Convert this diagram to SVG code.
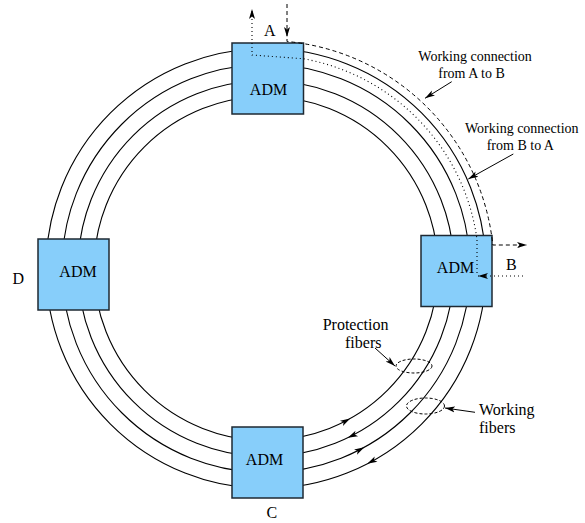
<svg xmlns="http://www.w3.org/2000/svg" xmlns:xlink="http://www.w3.org/1999/xlink" width="585" height="523" viewBox="0 0 585 523">
<style>
.fiber{fill:none;stroke:#000;stroke-width:1.1}
.box{fill:#87cefa;stroke:#1e2832;stroke-width:1.5}
.t{font-family:"Liberation Serif","Times New Roman",serif;fill:#000}
.t16{font-size:16px}
.t14{font-size:14px}
.dash{fill:none;stroke:#000;stroke-width:1;stroke-dasharray:4,3}
.dot{fill:none;stroke:#000;stroke-width:1.1;stroke-dasharray:1,3}
.ell{fill:none;stroke:#000;stroke-width:1;stroke-dasharray:3,2}
.ln{fill:none;stroke:#000;stroke-width:1}
</style>
<defs>
<marker id="ah" markerUnits="userSpaceOnUse" markerWidth="12" markerHeight="8" refX="10" refY="4" orient="auto">
<path d="M0,1 L10,4 L0,7 L2.5,4 z" fill="#000" stroke="none"/>
</marker>
<path id="fa" d="M0,0 L-10,-3 L-7.5,0 L-10,3 z" fill="#000"/>
</defs>

<g id="fibers">
<circle class="fiber" cx="266" cy="268.5" r="172"/>
<circle class="fiber" cx="266" cy="268.5" r="188"/>
<circle class="fiber" cx="266" cy="268.5" r="204"/>
<circle class="fiber" cx="266" cy="268.5" r="220"/>
<use xlink:href="#fa" transform="translate(350.2,418.5) rotate(-29.3)"/>
<use xlink:href="#fa" transform="translate(347.8,437.8) rotate(154.2)"/>
<use xlink:href="#fa" transform="translate(364.3,447.3) rotate(-28.8)"/>
<use xlink:href="#fa" transform="translate(367.2,463.8) rotate(152.6)"/>
</g>

<g id="adm-a">
<rect class="box" x="232" y="43" width="71.5" height="71"/>
<text class="t t16" x="268.5" y="95" text-anchor="middle">ADM</text>
<text class="t t16" x="264" y="36">A</text>
</g>
<g id="adm-b">
<rect class="box" x="421" y="235.5" width="71" height="71"/>
<text class="t t16" x="455.5" y="273" text-anchor="middle">ADM</text>
<text class="t t16" x="506" y="269.5">B</text>
</g>
<g id="adm-c">
<rect class="box" x="232" y="427" width="71" height="71"/>
<text class="t t16" x="264.5" y="465" text-anchor="middle">ADM</text>
<text class="t t16" x="266.5" y="518">C</text>
</g>
<g id="adm-d">
<rect class="box" x="38" y="239" width="71" height="71"/>
<text class="t t16" x="78" y="277" text-anchor="middle">ADM</text>
<text class="t t16" x="12.5" y="284">D</text>
</g>

<g id="connectors">
<!-- working connection A to B (dashed) -->
<path class="dash" d="M287,4 L287,37" marker-end="url(#ah)"/>
<path class="dash" d="M287,39 L287,41.5 A228,228 0 0,1 492.8,245 L527,245" marker-end="url(#ah)"/>
<!-- working connection B to A (dotted) -->
<path class="dot" d="M523,276 L478,276" marker-end="url(#ah)"/>
<path class="dot" d="M477,273 L477,239.4 A213,213 0 0,0 303,58.7 L252,55 L252,9" marker-end="url(#ah)"/>
<!-- fiber group ellipses -->
<ellipse class="ell" cx="414" cy="366" rx="18" ry="7"/>
<ellipse class="ell" cx="425.5" cy="406" rx="19" ry="8"/>
<!-- label pointers -->
<path class="ln" d="M451.7,81.7 L425,98.3" marker-end="url(#ah)"/>
<path class="ln" d="M513.3,154 L468.3,179" marker-end="url(#ah)"/>
<path class="ln" d="M375,348 L395,366" marker-end="url(#ah)"/>
<path class="ln" d="M475,412.3 L445,408" marker-end="url(#ah)"/>
</g>

<g id="labels">
<text class="t t14" x="418.3" y="61">Working connection</text>
<text class="t t14" x="438.3" y="78">from A to B</text>
<text class="t t14" x="465" y="133">Working connection</text>
<text class="t t14" x="486.7" y="150">from B to A</text>
<text class="t t16" x="322.7" y="330">Protection</text>
<text class="t t16" x="345" y="348">fibers</text>
<text class="t t16" x="479" y="415">Working</text>
<text class="t t16" x="479" y="433">fibers</text>
</g>
</svg>
